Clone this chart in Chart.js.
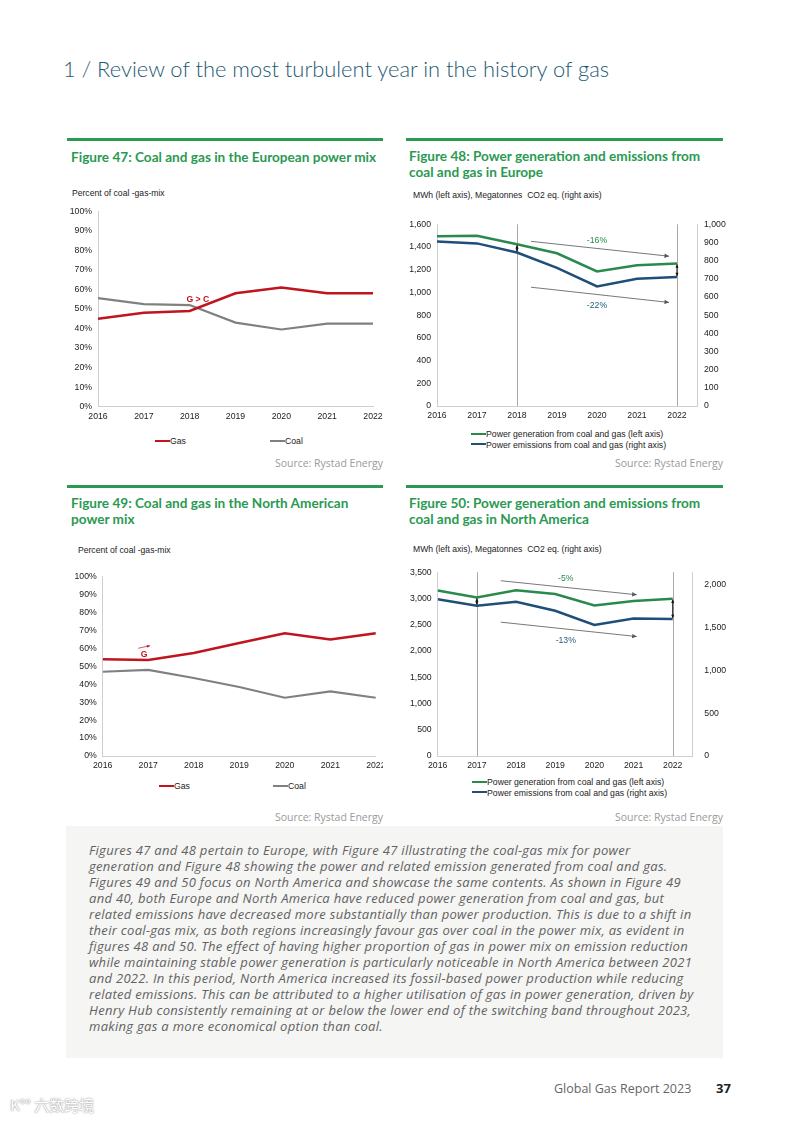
<!DOCTYPE html>
<html>
<head>
<meta charset="utf-8">
<script src="https://cdn.jsdelivr.net/npm/chart.js@4.4.1/dist/chart.umd.min.js"></script>
<style>
  body { margin: 0; background: #fff; }
  #page { position: relative; width: 789px; height: 1122px; overflow: hidden; font-family: "Open Sans", sans-serif; }
  .abs { position: absolute; white-space: nowrap; }
  .pagetitle { left: 63px; top: 55px; font-family: Lato, sans-serif; font-weight: 300; font-size: 21.9px; color: #1d5a74; }
  .rule { position: absolute; height: 3px; background: #2a9a52; }
  .figtitle { font-family: Lato, sans-serif; font-weight: 700; font-size: 13.6px; color: #2a9a52; line-height: 16px; }
  .axisnote { font-family: "Liberation Sans", Arial, sans-serif; font-size: 8.6px; color: #222; }
  .source { font-size: 10.5px; color: #9a9a9a; text-align: right; }
  .legend { font-family: "Liberation Sans", Arial, sans-serif; font-size: 8.7px; color: #222; line-height: 10.5px; }
  .legend i { display: inline-block; width: 15px; height: 2px; vertical-align: middle; position: relative; top: -1px; }
  .chartbox { position: absolute; }
  .note { left: 66px; top: 826px; width: 657px; height: 232px; background: #f5f5f4; position: absolute; }
  .note p { margin: 0; position: absolute; left: 23px; top: 16px; font-style: italic; font-size: 13px; letter-spacing: 0.3px; line-height: 16px; color: #626262; white-space: nowrap; font-weight: 500; }
  .footer { top: 1080px; left: 554px; font-size: 12.5px; color: #666; }
  .pnum { top: 1079px; left: 716px; font-size: 13px; font-weight: 700; color: #222; }
  .wm { left: 10px; top: 1094px; font-family: "Noto Sans CJK SC", sans-serif; font-size: 15px; color: #fff; text-shadow: 0 0 2px #999, 0 0 1px #aaa; }
</style>
</head>
<body>
<div id="page">
  <div class="abs pagetitle">1 / Review of the most turbulent year in the history of gas</div>

  <div class="rule" style="left:67px; top:138px; width:316px;"></div>
  <div class="rule" style="left:406px; top:138px; width:317px;"></div>
  <div class="rule" style="left:67px; top:485px; width:316px;"></div>
  <div class="rule" style="left:406px; top:485px; width:317px;"></div>

  <div class="abs figtitle" style="left:71px; top:149px;">Figure 47: Coal and gas in the European power mix</div>
  <div class="abs figtitle" style="left:409px; top:148px;">Figure 48: Power generation and emissions from<br>coal and gas in Europe</div>
  <div class="abs figtitle" style="left:71px; top:495px;">Figure 49: Coal and gas in the North American<br>power mix</div>
  <div class="abs figtitle" style="left:409px; top:495px;">Figure 50: Power generation and emissions from<br>coal and gas in North America</div>

  <div class="abs axisnote" style="left:72px; top:188px;">Percent of coal -gas-mix</div>
  <div class="abs axisnote" style="left:413px; top:190px;">MWh (left axis), Megatonnes&nbsp; CO2 eq. (right axis)</div>
  <div class="abs axisnote" style="left:78px; top:545px;">Percent of coal -gas-mix</div>
  <div class="abs axisnote" style="left:413px; top:544px;">MWh (left axis), Megatonnes&nbsp; CO2 eq. (right axis)</div>

  <div class="chartbox" style="left:60px; top:200px; width:330px; height:225px;"><canvas id="fig47"></canvas></div>
  <div class="chartbox" style="left:400px; top:205px; width:330px; height:220px;"><canvas id="fig48"></canvas></div>
  <div class="chartbox" style="left:60px; top:565px; width:323px; height:210px; overflow:hidden;"><div style="width:330px; height:210px;"><canvas id="fig49"></canvas></div></div>
  <div class="chartbox" style="left:400px; top:555px; width:330px; height:220px;"><canvas id="fig50"></canvas></div>

  <div class="abs legend" id="leg47a" style="left:155px; top:436px;"></div>
  <div class="abs legend" id="leg47b" style="left:270px; top:436px;"></div>
  <div class="abs legend" id="leg48" style="left:471px; top:429px;"></div>
  <div class="abs legend" id="leg49a" style="left:159px; top:781px;"></div>
  <div class="abs legend" id="leg49b" style="left:273px; top:781px;"></div>
  <div class="abs legend" id="leg50" style="left:472px; top:777px;"></div>

  <div class="abs source" style="left:223px; width:160px; top:456px;">Source: Rystad Energy</div>
  <div class="abs source" style="left:563px; width:160px; top:456px;">Source: Rystad Energy</div>
  <div class="abs source" style="left:223px; width:160px; top:810px;">Source: Rystad Energy</div>
  <div class="abs source" style="left:563px; width:160px; top:810px;">Source: Rystad Energy</div>

  <div class="note"><p>Figures 47 and 48 pertain to Europe, with Figure 47 illustrating the coal-gas mix for power<br>generation and Figure 48 showing the power and related emission generated from coal and gas.<br>Figures 49 and 50 focus on North America and showcase the same contents. As shown in Figure 49<br>and 40, both Europe and North America have reduced power generation from coal and gas, but<br>related emissions have decreased more substantially than power production. This is due to a shift in<br>their coal-gas mix, as both regions increasingly favour gas over coal in the power mix, as evident in<br>figures 48 and 50. The effect of having higher proportion of gas in power mix on emission reduction<br>while maintaining stable power generation is particularly noticeable in North America between 2021<br>and 2022. In this period, North America increased its fossil-based power production while reducing<br>related emissions. This can be attributed to a higher utilisation of gas in power generation, driven by<br>Henry Hub consistently remaining at or below the lower end of the switching band throughout 2023,<br>making gas a more economical option than coal.</p></div>

  <div class="abs footer">Global Gas Report 2023</div>
  <div class="abs pnum">37</div>
  <div class="abs wm">K°° 六数跨境</div>
</div>

<script>
// ---- data ----
const years = [2016, 2017, 2018, 2019, 2020, 2021, 2022];

const euGas = [45, 48, 49, 58, 61, 58, 58];
const euCoal = [55.5, 52.5, 52, 43, 39.5, 42.5, 42.5];
const euGeneration = [1495, 1500, 1425, 1345, 1185, 1240, 1255];
const euEmissions = [905, 895, 845, 760, 658, 700, 710];

const naGas = [54, 53.5, 57.5, 63, 68.5, 65, 68.5];
const naCoal = [47, 48, 43.5, 38.5, 32.5, 36, 32.5];
const naGeneration = [3150, 3020, 3155, 3085, 2865, 2950, 2995];
const naEmissions = [1830, 1755, 1800, 1695, 1530, 1605, 1600];

const pctTicks = [0, 10, 20, 30, 40, 50, 60, 70, 80, 90, 100];
const euLeftTicks = [0, 200, 400, 600, 800, 1000, 1200, 1400, 1600];
const euRightTicks = [0, 100, 200, 300, 400, 500, 600, 700, 800, 900, 1000];
const naLeftTicks = [0, 500, 1000, 1500, 2000, 2500, 3000, 3500];
const naRightTicks = [0, 500, 1000, 1500, 2000];

const seriesNames = ['Gas', 'Coal'];
const flowNames = ['Power generation from coal and gas  (left axis)', 'Power emissions from coal and gas (right axis)'];

const RED = '#c0141e', GREY = '#808080', GREEN = '#2a8a4e', BLUE = '#1f4e79';
const AXIS = '#cfcfcf';
const tickFont = { family: '"Liberation Sans", Arial, sans-serif', size: 8.7 };

Chart.defaults.animation = false;
Chart.defaults.color = '#222';

function pts(vals) {
  return years.map((yr, i) => ({ x: yr, y: vals[i] }));
}
function fmt(v) {
  return Number(v).toLocaleString('en-US');
}

function arrowHead(ctx, x1, y1, x2, y2, size) {
  const a = Math.atan2(y2 - y1, x2 - x1);
  ctx.beginPath();
  ctx.moveTo(x2, y2);
  ctx.lineTo(x2 - size * Math.cos(a - 0.45), y2 - size * Math.sin(a - 0.45));
  ctx.lineTo(x2 - size * Math.cos(a + 0.45), y2 - size * Math.sin(a + 0.45));
  ctx.closePath();
  ctx.fill();
}

// vertical marker lines, trend arrows, labels and gap arrows
const overlay = {
  id: 'overlay',
  beforeDatasetsDraw(chart, args, opts) {
    const ctx = chart.ctx, area = chart.chartArea, xs = chart.scales.x;
    ctx.save();
    ctx.strokeStyle = '#a8a8a8';
    ctx.lineWidth = 1;
    (opts.vlines || []).forEach(v => {
      const px = Math.round(xs.getPixelForValue(v)) + 0.5;
      ctx.beginPath();
      ctx.moveTo(px, area.top);
      ctx.lineTo(px, area.bottom);
      ctx.stroke();
    });
    ctx.restore();
  },
  afterDatasetsDraw(chart, args, opts) {
    const ctx = chart.ctx, xs = chart.scales.x;
    ctx.save();
    (opts.arrows || []).forEach(a => {
      const ys = chart.scales[a.axis];
      const x1 = xs.getPixelForValue(a.x1), y1 = ys.getPixelForValue(a.y1);
      const x2 = xs.getPixelForValue(a.x2), y2 = ys.getPixelForValue(a.y2);
      ctx.strokeStyle = a.color || '#555';
      ctx.fillStyle = a.color || '#555';
      ctx.lineWidth = a.width || 0.8;
      ctx.beginPath();
      ctx.moveTo(x1, y1);
      ctx.lineTo(x2, y2);
      ctx.stroke();
      arrowHead(ctx, x1, y1, x2, y2, a.head || 5);
    });
    (opts.gaps || []).forEach(i => {
      const p0 = chart.getDatasetMeta(0).data[i];
      const p1 = chart.getDatasetMeta(1).data[i];
      ctx.strokeStyle = '#111';
      ctx.fillStyle = '#111';
      ctx.lineWidth = 1;
      ctx.beginPath();
      ctx.moveTo(p0.x, p0.y + 1);
      ctx.lineTo(p1.x, p1.y - 1);
      ctx.stroke();
      arrowHead(ctx, p1.x, p1.y, p0.x, p0.y + 1, 3.5);
      arrowHead(ctx, p0.x, p0.y, p1.x, p1.y - 1, 3.5);
    });
    (opts.texts || []).forEach(t => {
      const ys = chart.scales[t.axis];
      ctx.font = (t.bold ? 'bold ' : '') + '8.7px "Liberation Sans", Arial, sans-serif';
      ctx.fillStyle = t.color;
      ctx.textAlign = 'center';
      ctx.textBaseline = 'middle';
      ctx.fillText(t.text, xs.getPixelForValue(t.x), ys.getPixelForValue(t.y));
    });
    ctx.restore();
  }
};

function fixedTicks(list) {
  return scale => { scale.ticks = list.map(v => ({ value: v })); };
}
function fixWidth(w) {
  return scale => { scale.width = w; };
}
function fixHeight(h) {
  return scale => { scale.height = h; };
}

function xAxis(max, h) {
  return {
    type: 'linear', min: 2016, max: max,
    afterBuildTicks: fixedTicks(years),
    afterFit: fixHeight(h),
    grid: { display: false, drawTicks: false },
    border: { display: true, color: AXIS },
    ticks: { font: tickFont, padding: 4.5, color: '#222', callback: v => String(v), maxRotation: 0, autoSkip: false }
  };
}
function yAxis(pos, max, list, w, pad, cb) {
  return {
    type: 'linear', position: pos, min: 0, max: max,
    afterBuildTicks: fixedTicks(list),
    afterFit: fixWidth(w),
    grid: { display: false, drawTicks: false },
    border: { display: true, color: AXIS },
    ticks: { font: tickFont, padding: pad, color: '#222', callback: cb }
  };
}

function mixChart(id, gas, coal, pad, yw, xh, notes) {
  return new Chart(document.getElementById(id), {
    type: 'line',
    data: {
      datasets: [
        { label: seriesNames[0], data: pts(gas), borderColor: RED, backgroundColor: RED, borderWidth: 2.5, pointRadius: 0, tension: 0 },
        { label: seriesNames[1], data: pts(coal), borderColor: GREY, backgroundColor: GREY, borderWidth: 2.2, pointRadius: 0, tension: 0 }
      ]
    },
    options: {
      responsive: true,
      maintainAspectRatio: false,
      layout: { padding: pad },
      plugins: { legend: { display: false }, tooltip: { enabled: false }, overlay: notes },
      scales: {
        x: xAxis(2022, xh),
        y: yAxis('left', 100, pctTicks, yw, 6, v => v + '%')
      }
    },
    plugins: [overlay]
  });
}

function flowChart(id, gen, emi, leftMax, rightMax, leftTicks, rightTicks, pad, lw, rw, rpad, notes) {
  return new Chart(document.getElementById(id), {
    type: 'line',
    data: {
      datasets: [
        { label: flowNames[0], data: pts(gen), yAxisID: 'y', borderColor: GREEN, backgroundColor: GREEN, borderWidth: 2.5, pointRadius: 0, tension: 0 },
        { label: flowNames[1], data: pts(emi), yAxisID: 'y1', borderColor: BLUE, backgroundColor: BLUE, borderWidth: 2.5, pointRadius: 0, tension: 0 }
      ]
    },
    options: {
      responsive: true,
      maintainAspectRatio: false,
      layout: { padding: pad },
      plugins: { legend: { display: false }, tooltip: { enabled: false }, overlay: notes },
      scales: {
        x: xAxis(2022.5, 19),
        y: yAxis('left', leftMax, leftTicks, lw, 6, fmt),
        y1: yAxis('right', rightMax, rightTicks, rw, rpad, fmt)
      }
    },
    plugins: [overlay]
  });
}

const fig47 = mixChart('fig47', euGas, euCoal, { top: 11, right: 17, left: 0, bottom: 0 }, 38, 18.3, {
  texts: [{ text: 'G > C', x: 2018.18, y: 55, axis: 'y', color: RED, bold: true }]
});

const fig48 = flowChart('fig48', euGeneration, euEmissions, 1600, 1000, euLeftTicks, euRightTicks,
  { top: 19.3, right: 0, left: 0, bottom: 0 }, 37, 33, 7, {
    vlines: [2018, 2022],
    gaps: [2, 6],
    arrows: [
      { x1: 2018.35, y1: 1450, x2: 2021.8, y2: 1319, axis: 'y' },
      { x1: 2018.35, y1: 1046, x2: 2021.8, y2: 912, axis: 'y' }
    ],
    texts: [
      { text: '-16%', x: 2020.0, y: 1460, axis: 'y', color: GREEN, bold: false },
      { text: '-22%', x: 2020.0, y: 888, axis: 'y', color: '#1f5f7a', bold: false }
    ]
  });

const fig49 = mixChart('fig49', naGas, naCoal, { top: 11.7, right: 14, left: 0, bottom: 0 }, 42.7, 19, {
  arrows: [{ x1: 2016.78, y1: 60.1, x2: 2017.04, y2: 61.5, axis: 'y', color: RED, width: 0.7, head: 3.5 }],
  texts: [{ text: 'G', x: 2016.91, y: 56.6, axis: 'y', color: RED, bold: true }]
});

const fig50 = flowChart('fig50', naGeneration, naEmissions, 3500, 2145, naLeftTicks, naRightTicks,
  { top: 13.3, right: 0, left: 0, bottom: 0 }, 37.7, 37.7, 12, {
    vlines: [2017, 2022],
    gaps: [1, 6],
    arrows: [
      { x1: 2017.61, y1: 3338, x2: 2021.08, y2: 3071, axis: 'y' },
      { x1: 2017.61, y1: 2549, x2: 2021.08, y2: 2275, axis: 'y' }
    ],
    texts: [
      { text: '-5%', x: 2019.27, y: 3380, axis: 'y', color: GREEN, bold: false },
      { text: '-13%', x: 2019.27, y: 2195, axis: 'y', color: '#1f5f7a', bold: false }
    ]
  });

// html legends from the chart datasets
function legendItem(ds) {
  return '<div><i style="background:' + ds.borderColor + '"></i>' + ds.label + '</div>';
}
document.getElementById('leg47a').innerHTML = legendItem(fig47.data.datasets[0]);
document.getElementById('leg47b').innerHTML = legendItem(fig47.data.datasets[1]);
document.getElementById('leg49a').innerHTML = legendItem(fig49.data.datasets[0]);
document.getElementById('leg49b').innerHTML = legendItem(fig49.data.datasets[1]);
document.getElementById('leg48').innerHTML = fig48.data.datasets.map(legendItem).join('');
document.getElementById('leg50').innerHTML = fig50.data.datasets.map(legendItem).join('');
</script>
</body>
</html>
